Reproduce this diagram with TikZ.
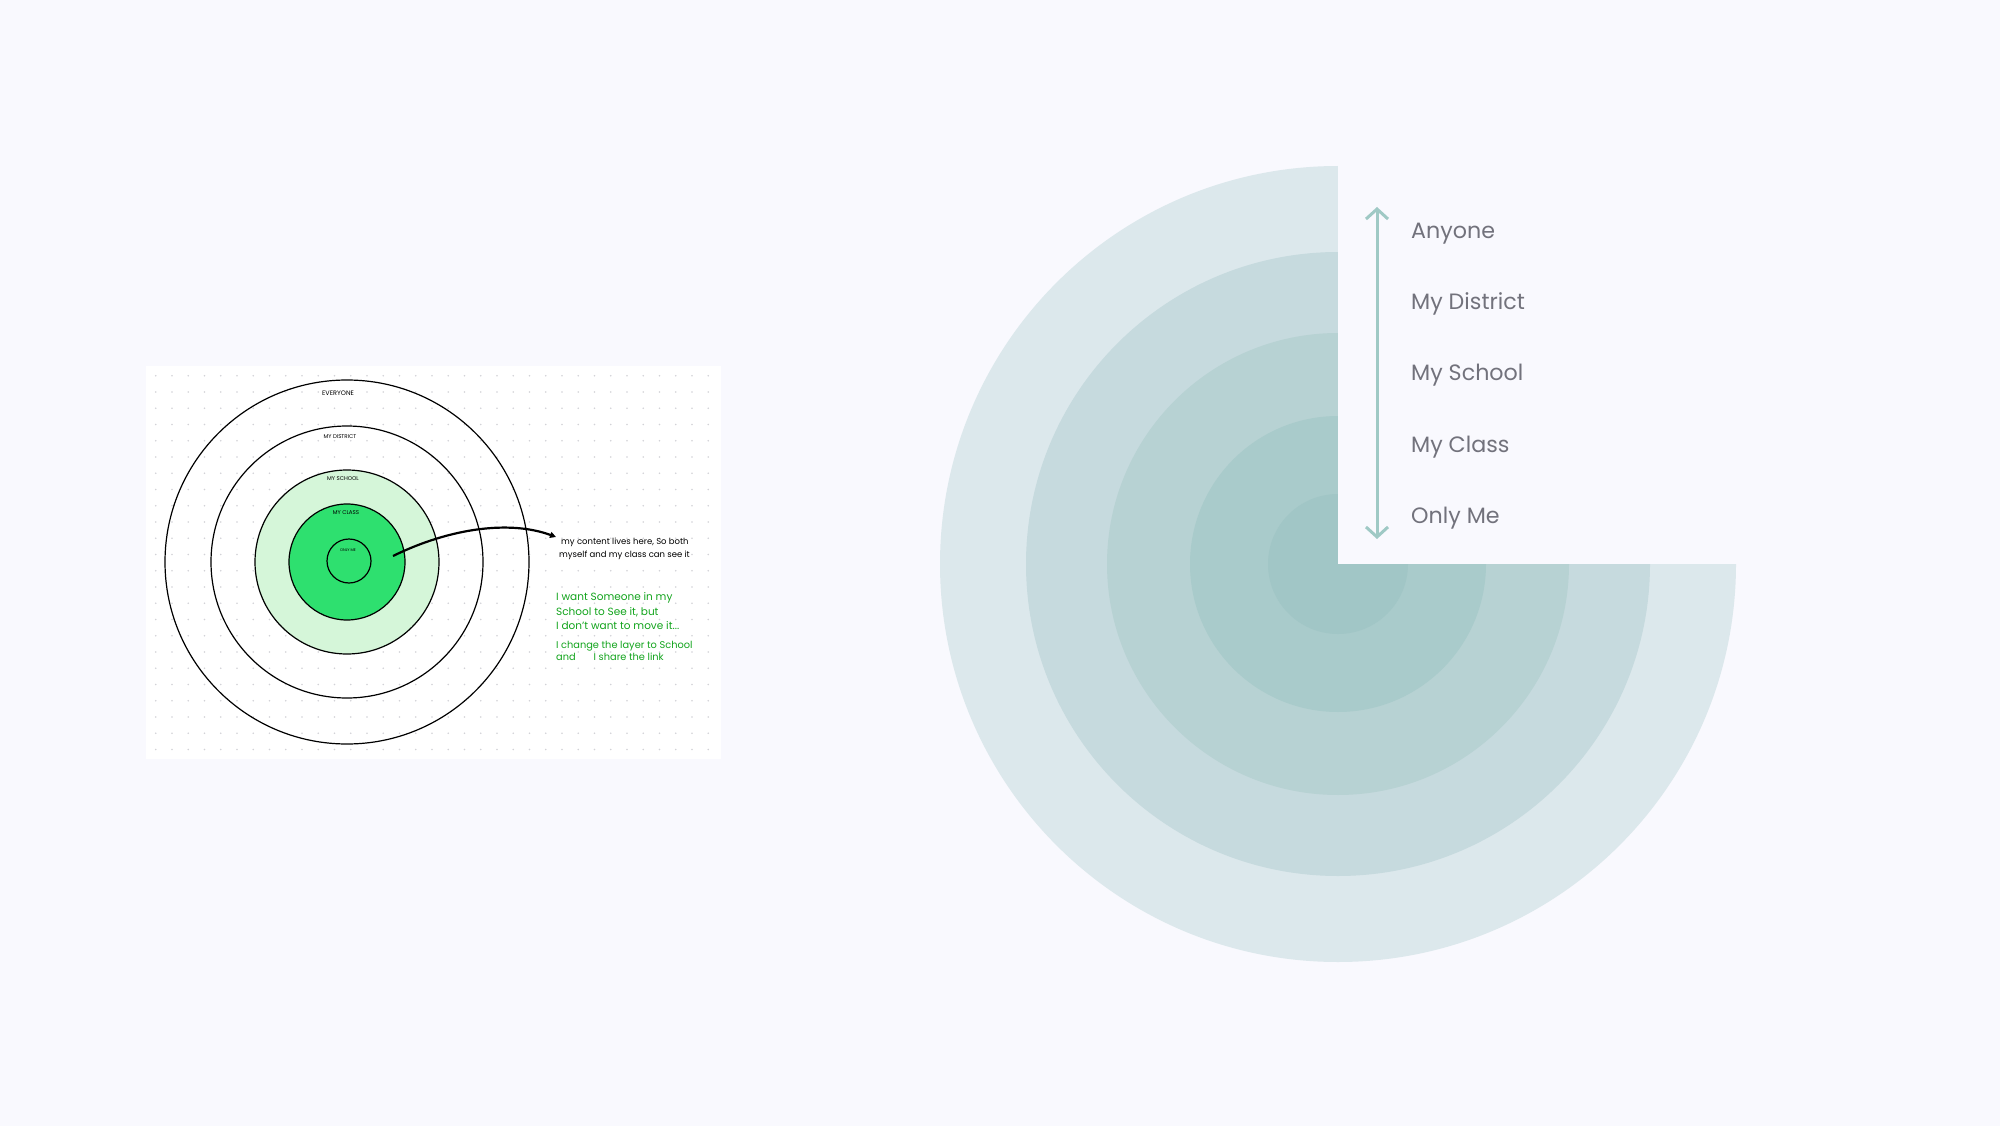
\documentclass[tikz,border=0pt]{standalone}
\usepackage{fontspec}
\setmainfont{Poppins}
\usetikzlibrary{arrows.meta}
\definecolor{bg}{HTML}{F9F9FE}
\definecolor{dotc}{HTML}{D2D2D7}
\definecolor{lgreen}{HTML}{D5F6D9}
\definecolor{sgreen}{HTML}{2EE06F}
\definecolor{notegreen}{HTML}{12A41C}
\definecolor{ringA}{HTML}{DCE8EC}
\definecolor{ringB}{HTML}{C6DADE}
\definecolor{ringC}{HTML}{B7D2D3}
\definecolor{ringD}{HTML}{A9CBCB}
\definecolor{ringE}{HTML}{A1C6C6}
\definecolor{arrowc}{HTML}{9FC9C5}
\definecolor{labc}{HTML}{72727C}
\tikzset{
  sk/.style={circle, draw=black, line width=1.2pt, inner sep=0pt},
  sklab/.style={inner sep=0pt, font=\fontsize{5.5}{6}\selectfont},
  note/.style={inner sep=0pt, anchor=base west, font=\fontsize{8.5}{10}\selectfont},
  gnote/.style={note, text=notegreen, font=\fontsize{10.5}{12}\selectfont},
  gnotesm/.style={note, text=notegreen, font=\fontsize{9.8}{11}\selectfont},
  ring/.style={circle, inner sep=0pt, draw=none},
  lab/.style={inner sep=0pt, anchor=base west, text=labc, font=\fontsize{22.2}{26}\selectfont}
}
\begin{document}
\begin{tikzpicture}[x=1pt,y=-1pt]
\useasboundingbox (0,0) rectangle (2000,1126);
\fill[bg] (0,0) rectangle (2000,1126);

% ---- sketch panel ----
\fill[white] (146,366) rectangle (721,759);
\foreach \i in {0,...,34} {
  \foreach \j in {0,...,23} {
    \fill[dotc] ({155.7+16.25*\i},{375.7+16.25*\j}) circle (0.9);
  }
}
\node[sk, minimum size=364pt] (everyone) at (347,562) {};
\node[sk, minimum size=272pt] (district) at (347,562) {};
\node[sk, fill=lgreen, minimum size=184pt] (school) at (347,562) {};
\node[sk, fill=sgreen, minimum size=116pt] (class) at (347,562) {};
\node[sk, minimum size=44pt] (onlyme) at (349,561) {};

\node[sklab, font=\fontsize{6.5}{7}\selectfont] (leveryone) at (338,393) {EVERYONE};
\node[sklab] (ldistrict) at (340,437) {MY DISTRICT};
\node[sklab] (lschool) at (343,479) {MY SCHOOL};
\node[sklab] (lclass) at (346,513) {MY CLASS};
\node[sklab, font=\fontsize{3.8}{4}\selectfont] (lonlyme) at (348,550) {ONLY ME};

\node[note] (n1) at (561,544) {my content lives here, So both};
\node[note] (n2) at (559,557) {myself and my class can see it};
\node[gnote] (g1) at (556,600) {I want Someone in my};
\node[gnote] (g2) at (556,615) {School to See it, but};
\node[gnote] (g3) at (556,629) {I don't want to move it...};
\node[gnotesm] (g4) at (556,648) {I change the layer to School};
\node[gnotesm] (g5) at (556,660) {and\hspace{18pt}I share the link};

\coordinate (astart) at (393,556);
\coordinate (aend) at (556,537);
\draw[line width=2.2pt, -{Triangle[length=6pt,width=6pt]}] (astart) .. controls (450,528) and (510,520) .. (aend);

% ---- rings ----
\node[ring, fill=ringA, minimum size=796pt] (r1) at (1338,564) {};
\node[ring, fill=ringB, minimum size=624pt] (r2) at (1338,564) {};
\node[ring, fill=ringC, minimum size=462pt] (r3) at (1338,564) {};
\node[ring, fill=ringD, minimum size=296pt] (r4) at (1338,564) {};
\node[ring, fill=ringE, minimum size=140pt] (r5) at (1338,564) {};
\fill[bg] (1338,150) rectangle (1740,564);

\coordinate (stop) at (1377,207);
\coordinate (sbot) at (1377,539);
\draw[arrowc, line width=3pt, {Straight Barb[length=10pt,width=22pt]}-{Straight Barb[length=10pt,width=22pt]}] (stop) -- (sbot);

\node[lab] (anyone) at (1411,238.3) {Anyone};
\node[lab] (mydistrict) at (1411,309.3) {My District};
\node[lab] (myschool) at (1411,380.7) {My School};
\node[lab] (myclass) at (1411,452.3) {My Class};
\node[lab] (onlyme2) at (1411,523.3) {Only Me};
\end{tikzpicture}
\end{document}
